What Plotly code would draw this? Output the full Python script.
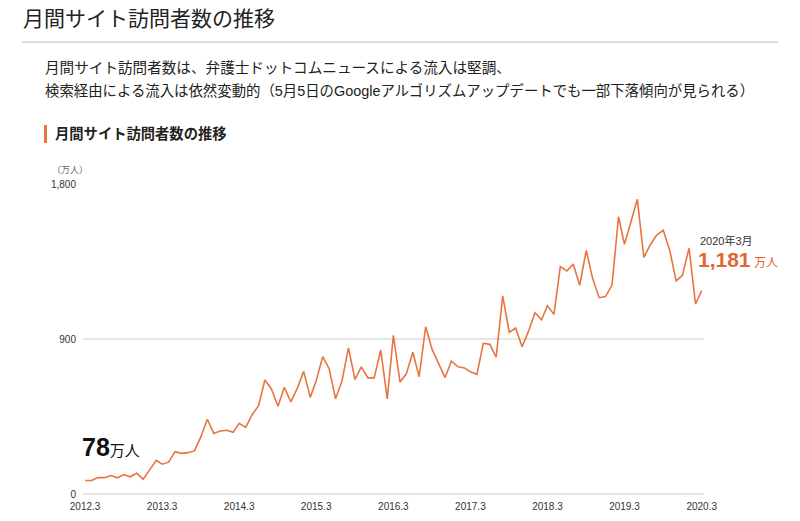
import pandas as pd
import plotly.graph_objects as go

# ---- data ----
start_month = "2012-03-01"
visitors = [
    78, 78, 95, 95, 107, 94, 113, 100, 120, 86, 140, 196,
    173, 185, 246, 236, 240, 250, 333, 434, 352, 366, 370, 358,
    410, 387, 459, 513, 662, 610, 510, 620, 535, 612, 712, 561,
    657, 797, 729, 553, 655, 848, 665, 738, 674, 674, 836, 552,
    921, 651, 696, 823, 681, 971, 838, 757, 676, 772, 739, 732,
    710, 695, 875, 869, 794, 1151, 939, 964, 855, 944, 1053, 1012,
    1093, 1043, 1320, 1295, 1335, 1212, 1415, 1252, 1140, 1146, 1213, 1610,
    1450, 1581, 1711, 1374, 1446, 1504, 1531, 1417, 1237, 1270, 1427, 1103,
    1181,
]
months = pd.date_range(start_month, periods=len(visitors), freq="MS")
tick_dates = [f"{y}-03-01" for y in range(2012, 2021)]
tick_labels = [f"{y}.3" for y in range(2012, 2021)]
y_ticks = [0, 900, 1800]
y_tick_labels = ["0", "900", "1,800"]

title = "月間サイト訪問者数の推移"
sub1 = "月間サイト訪問者数は、弁護士ドットコムニュースによる流入は堅調、"
sub2 = "検索経由による流入は依然変動的（5月5日のGoogleアルゴリズムアップデートでも一部下落傾向が見られる）"
section = "月間サイト訪問者数の推移"
unit = "（万人）"
first_val = visitors[0]
last_val = visitors[-1]
last_label = "2020年3月"

# ---- layout geometry ----
W, H = 800, 521
L, R, T, B = 83, 96, 184, 27
PW, PH = W - L - R, H - T - B

def px(x):
    return (x - L) / PW

def py(y):
    return (H - B - y) / PH

FONT = "Liberation Sans, Arial, Noto Sans CJK JP, sans-serif"
ORANGE = "#E8743F"
ORANGE_TXT = "#E0672F"

fig = go.Figure()
fig.add_trace(go.Scatter(
    x=months, y=visitors, mode="lines",
    line=dict(color=ORANGE, width=1.6),
    hoverinfo="skip", showlegend=False,
))

def ann(x, y, text, size, color, xanchor="left"):
    return dict(x=px(x), y=py(y), xref="paper", yref="paper", text=text, showarrow=False,
                xanchor=xanchor, yanchor="middle",
                font=dict(size=size, color=color, family=FONT))

annotations = [
    ann(21, 18, title, 21, "#222"),
    ann(43, 68, sub1, 14.6, "#222"),
    ann(43, 91, sub2, 14.4, "#222"),
    ann(53, 134, f"<b>{section}</b>", 14.3, "#222"),
    ann(50, 170, unit, 9, "#666"),
    ann(80, 447, f"<b>{first_val}</b><span style='font-size:15px'>万人</span>", 25, "#111"),
    ann(698, 240, last_label, 11, "#333"),
    ann(696, 259, f"<b>{last_val:,}</b><span style='font-size:12px'> 万人</span>", 21, ORANGE_TXT),
]

shapes = [
    dict(type="line", xref="paper", yref="paper", x0=px(22), x1=px(778), y0=py(42), y1=py(42),
         line=dict(color="#cfcfcf", width=1.5)),
    dict(type="rect", xref="paper", yref="paper", x0=px(44), x1=px(47), y0=py(125), y1=py(143),
         line=dict(width=0), fillcolor=ORANGE),
]

fig.update_layout(
    width=W, height=H,
    margin=dict(l=L, r=R, t=T, b=B),
    paper_bgcolor="white", plot_bgcolor="white",
    font=dict(family=FONT, size=10, color="#333"),
    annotations=annotations, shapes=shapes,
    xaxis=dict(
        range=["2012-02-20", "2020-03-12"],
        tickvals=tick_dates, ticktext=tick_labels,
        showgrid=False, zeroline=False, showline=False, ticks="",
        ticklabelstandoff=5, automargin=False,
        tickfont=dict(size=10, color="#333"),
    ),
    yaxis=dict(
        range=[0, 1800], tickvals=y_ticks, ticktext=y_tick_labels,
        showgrid=True, gridcolor="#e6e6e6", gridwidth=1.5,
        zeroline=True, zerolinecolor="#e6e6e6", zerolinewidth=1.5,
        showline=False, ticks="", ticklabelstandoff=6, automargin=False,
        tickfont=dict(size=10, color="#333"),
    ),
)

fig.write_html("out.html")
